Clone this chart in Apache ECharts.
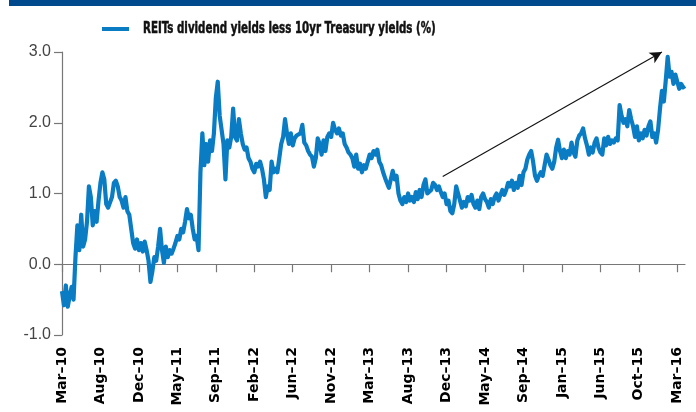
<!DOCTYPE html>
<html>
<head>
<meta charset="utf-8">
<script src="https://cdn.jsdelivr.net/npm/echarts@6/dist/echarts.min.js"></script>
<style>
html,body{margin:0;padding:0;background:#fff;}
#chart{width:696px;height:412px;}
</style>
</head>
<body>
<div id="chart"></div>
<script>
// Weekly spread: REITs dividend yield less 10yr Treasury yield (%), Mar-2010 .. Mar-2016
const yieldSpread = [
  -0.38, -0.58, -0.3, -0.6, -0.45, -0.32, -0.5, 0.1, 0.55, 0.2,
  0.7, 0.25, 0.35, 0.6, 1.1, 0.95, 0.55, 0.75, 0.6, 0.9,
  1.15, 1.3, 1.2, 0.85, 0.8, 0.78, 0.95, 1.15, 1.18, 1.1,
  0.95, 0.9, 0.8, 0.95, 0.75, 0.7, 0.5, 0.3, 0.22, 0.35,
  0.2, 0.3, 0.18, 0.32, 0.2, 0.05, -0.25, -0.1, 0.1, 0.05,
  0.25, 0.5, 0.2, 0.02, 0.25, 0.1, 0.2, 0.15, 0.22, 0.3,
  0.4, 0.35, 0.5, 0.45, 0.6, 0.78, 0.65, 0.7, 0.5, 0.35,
  0.4, 0.2, 1.3, 1.85, 1.4, 1.7, 1.45, 1.75, 1.6, 1.85,
  2.35, 2.58, 2.1, 1.9, 1.7, 1.2, 1.75, 1.65, 1.8, 2.2,
  1.8, 1.75, 2.05, 1.85, 1.7, 1.62, 1.65, 1.5, 1.45, 1.35,
  1.3, 1.42, 1.38, 1.45, 1.35, 1.2, 0.95, 1.1, 1.05, 1.45,
  1.3, 1.35, 1.3, 1.5, 1.7, 1.8, 2.05, 1.85, 1.7, 1.85,
  1.68, 1.78, 1.82, 1.8, 1.85, 1.97, 1.72, 1.68, 1.6, 1.55,
  1.52, 1.38, 1.5, 1.78, 1.7, 1.55, 1.75, 1.6, 1.8, 1.85,
  1.8, 2.0, 1.9, 1.85, 1.92, 1.82, 1.85, 1.7, 1.65, 1.58,
  1.55, 1.5, 1.38, 1.55, 1.35, 1.42, 1.3, 1.4, 1.35, 1.45,
  1.55, 1.5, 1.6, 1.55, 1.62, 1.45, 1.4, 1.3, 1.22, 1.15,
  1.08, 1.2, 1.32, 1.2, 1.25, 1.0, 0.9, 0.85, 0.95, 0.88,
  1.0, 0.9, 0.95, 0.88, 1.02, 0.92, 1.05, 0.95, 1.12, 1.2,
  1.0, 0.98, 1.05, 1.15, 1.12, 1.05, 1.1, 1.02, 0.95, 1.0,
  0.85, 0.9, 0.75, 0.72, 0.85, 1.1, 1.0, 0.9, 0.8, 0.88,
  0.82, 0.95, 0.9, 0.98, 0.85, 0.8, 0.9, 0.78, 0.95, 1.0,
  0.92, 0.88, 0.8, 0.92, 0.85, 0.95, 1.0, 0.9, 0.98, 1.05,
  0.98, 1.05, 1.15, 1.1, 1.18, 1.05, 1.15, 1.08, 1.25, 1.12,
  1.3, 1.35, 1.48, 1.55, 1.6, 1.45, 1.25, 1.18, 1.25, 1.3,
  1.25, 1.4, 1.55, 1.48, 1.4, 1.35, 1.45, 1.65, 1.76, 1.6,
  1.5, 1.62, 1.5, 1.6, 1.55, 1.72, 1.58, 1.52, 1.75, 1.82,
  1.85, 1.92, 1.78, 1.68, 1.55, 1.65, 1.58, 1.72, 1.78, 1.65,
  1.58, 1.55, 1.78, 1.68, 1.8, 1.7, 1.75, 1.72, 1.78, 1.75,
  2.25, 2.1, 2.0, 2.05, 1.95, 2.18, 2.05, 1.95, 1.8, 1.95,
  1.75, 1.85, 1.78, 1.9, 1.82, 1.95, 2.02, 1.8, 1.85, 1.72,
  1.9, 2.2, 2.45, 2.3, 2.6, 2.93, 2.65, 2.72, 2.55, 2.68,
  2.58, 2.48, 2.55, 2.5, 2.52
];
const tickLabels = ['Mar–10','Aug–10','Dec–10','May–11','Sep–11','Feb–12','Jun–12','Nov–12',
  'Mar–13','Aug–13','Dec–13','May–14','Sep–14','Jan–15','Jun–15','Oct–15','Mar–16'];
const labelEvery = 20;
const seriesName = 'REITs dividend yields less 10yr Treasury yields (%)';
// Trend arrow: [category index, value] start and end
const arrowStart = [198, 1.24];
const arrowEnd = [312, 3.0];

const categories = yieldSpread.map((_, i) => i);
const lineColor = '#0a7cc3';

const chart = echarts.init(document.getElementById('chart'), null, {renderer: 'canvas'});
chart.setOption({
  animation: false,
  backgroundColor: '#fff',
  graphic: [{
    type: 'rect', left: 9, top: 0, shape: {width: 687, height: 6},
    style: {fill: '#00498c'}, silent: true
  }, {
    type: 'text', x: 143, y: 29, scaleX: 0.715, silent: true,
    style: {
      text: seriesName, fill: '#111', stroke: '#111', lineWidth: 0.5,
      font: 'bold 16px "DejaVu Sans Condensed", "DejaVu Sans", sans-serif',
      textAlign: 'left', textVerticalAlign: 'middle'
    }
  }],
  legend: {
    show: true, left: 102, top: 27, padding: 0,
    icon: 'rect', itemWidth: 27, itemHeight: 4,
    formatter: () => '',
    textStyle: {fontSize: 1},
    data: [seriesName]
  },
  grid: {left: 62, right: 11, top: 52, bottom: 77, containLabel: false},
  xAxis: [{
    type: 'category', data: categories, boundaryGap: false, position: 'bottom',
    axisLine: {show: true, onZero: true, lineStyle: {color: '#777', width: 1.2}},
    axisTick: {show: true, interval: labelEvery - 1, length: 8, inside: false, lineStyle: {color: '#777', width: 1.2}},
    axisLabel: {show: false},
    splitLine: {show: false}
  }, {
    type: 'category', data: categories, boundaryGap: false, position: 'bottom',
    axisLine: {show: false, onZero: false},
    axisTick: {show: false},
    axisLabel: {
      show: true, interval: labelEvery - 1, rotate: 90, margin: 12,
      fontFamily: '"DejaVu Sans", sans-serif', fontWeight: 'bold', fontSize: 14, color: '#000',
      formatter: (v, idx) => (idx % labelEvery === 0 ? tickLabels[idx / labelEvery] : '')
    },
    splitLine: {show: false}
  }],
  yAxis: {
    type: 'value', min: -1, max: 3, interval: 1,
    axisLine: {show: true, lineStyle: {color: '#777', width: 1.2}},
    axisTick: {show: true, length: 8, lineStyle: {color: '#777', width: 1.2}},
    axisLabel: {
      margin: 11, fontFamily: '"Liberation Sans", Arial, sans-serif', fontSize: 16, color: '#444',
      formatter: v => v.toFixed(1)
    },
    splitLine: {show: false}
  },
  series: [{
    name: seriesName, type: 'line', xAxisIndex: 0, yAxisIndex: 0,
    data: yieldSpread, showSymbol: false, symbol: 'none', clip: false,
    lineStyle: {color: lineColor, width: 4.2, join: 'round'},
    itemStyle: {color: lineColor},
    markLine: {
      silent: true, symbol: ['none', 'arrow'], symbolSize: [9, 12],
      label: {show: false},
      lineStyle: {color: '#111', width: 1.1, type: 'solid'},
      emphasis: {disabled: true},
      data: [[{coord: arrowStart}, {coord: arrowEnd}]]
    }
  }]
});
</script>
</body>
</html>
